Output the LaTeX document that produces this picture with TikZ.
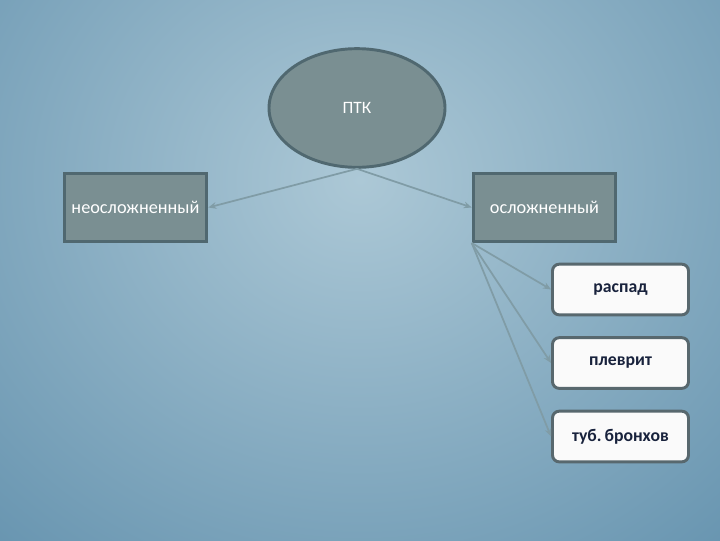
\documentclass[tikz,border=0pt]{standalone}
\usepackage{fontspec}
\setmainfont{Carlito}
\usetikzlibrary{shapes.geometric,arrows.meta}
\definecolor{bgin}{RGB}{172,200,214}
\definecolor{bgout}{RGB}{100,146,174}
\definecolor{boxfill}{RGB}{122,143,146}
\definecolor{boxline}{RGB}{80,104,112}
\definecolor{leafline}{RGB}{88,104,110}
\definecolor{leaftext}{RGB}{24,34,60}
\definecolor{arrowcol}{RGB}{128,156,166}

\tikzset{every picture/.style={line width=0.75pt}}
\tikzset{
  mainbox/.style={draw=boxline,fill=boxfill,line width=2.2pt,minimum width=107pt,minimum height=51pt,inner sep=0pt,text=white,font=\fontsize{13.7}{16}\selectfont},
  leafbox/.style={draw=leafline,fill=white!96!gray,line width=2.2pt,rounded corners=5pt,minimum width=102pt,minimum height=38pt,inner sep=0pt,text=leaftext,font=\fontsize{13.3}{16}\selectfont\bfseries},
  link/.style={draw=arrowcol,line width=1.3pt,-{Stealth[length=6pt,width=5pt]}}
}

\begin{document}
\begin{tikzpicture}[x=0.75pt,y=0.75pt,yscale=-1,xscale=1]
\useasboundingbox (0,0) rectangle (720,540);
%background
\begin{scope}
\clip (0,0) rectangle (720,540);
\shade[inner color=bgin,outer color=bgout] (-220,-340) rectangle (940,700);
\end{scope}

%Shape: Ellipse
\node (ptk) [ellipse,draw=boxline,fill=boxfill,line width=2.2pt,minimum width=132pt,minimum height=89pt,text=white,font=\fontsize{13}{15}\selectfont] at (357,108) {ПТК};

%Shape: Rectangle
\node (neosl) [mainbox] at (135.5,207.5) {неосложненный};
\node (osl) [mainbox] at (544.5,207.5) {осложненный};

%Rounded Rectangles
\node (raspad) [leafbox] at (620.5,289.5) {распад};
\node (plevr) [leafbox] at (620.5,363) {плеврит};
\node (tub) [leafbox] at (620.5,436.5) {туб.\,бронхов};

%Straight Lines
\draw [link] (ptk.south) -- (neosl.east);
\draw [link] (ptk.south) -- (osl.west);
\draw [link] (osl.south west) -- (raspad.west);
\draw [link] (osl.south west) -- (plevr.west);
\draw [link] (osl.south west) -- (tub.west);

\end{tikzpicture}
\end{document}
